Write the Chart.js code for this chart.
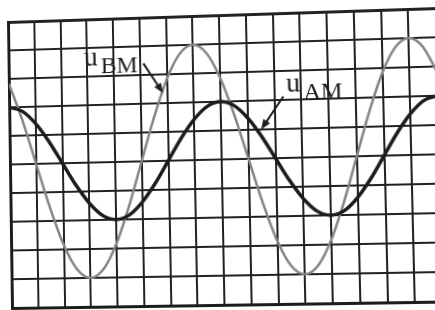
<!DOCTYPE html>
<html lang="en">
<head>
    <meta charset="UTF-8">
    <title>u_AM and u_BM</title>
    <script src="https://cdn.jsdelivr.net/npm/chart.js@4.4.0/dist/chart.umd.min.js"></script>
    <style>
        html, body { margin: 0; padding: 0; background: #fff; }
        body { width: 435px; height: 310px; overflow: hidden; position: relative; }
        /* the scanned sheet is slightly skewed, see fitSheet() */
        .sheet {
            position: absolute; left: 0; top: 0;
            width: 450px; height: 320px;
            transform-origin: 0 0;
        }
    </style>
</head>
<body>
    <div class="sheet" id="sheet"><canvas id="scope" width="450" height="320"></canvas></div>

    <script>
        // grid divisions
        const xDivs = [0, 1, 2, 3, 4, 5, 6, 7, 8, 9, 10, 11, 12, 13, 14, 15, 16];
        const yDivs = [-5, -4, -3, -2, -1, 0, 1, 2, 3, 4, 5];

        // time in grid divisions
        const time = [0, 0.5, 1, 1.5, 2, 2.5, 3, 3.5, 4, 4.5, 5, 5.5, 6, 6.5, 7, 7.5, 8,
                      8.5, 9, 9.5, 10, 10.5, 11, 11.5, 12, 12.5, 13, 13.5, 14, 14.5, 15, 15.5, 16];

        // voltages in grid divisions
        const uAM = [2, 1.85, 1.41, 0.77, 0, -0.77, -1.41, -1.85, -2, -1.85, -1.41, -0.77, 0, 0.77, 1.41, 1.85, 2,
                     1.85, 1.41, 0.77, 0, -0.77, -1.41, -1.85, -2, -1.85, -1.41, -0.77, 0, 0.77, 1.41, 1.85, 2];
        const uBM = [2.83, 1.53, 0, -1.53, -2.83, -3.7, -4, -3.7, -2.83, -1.53, 0, 1.53, 2.83, 3.7, 4, 3.7, 2.83,
                     1.53, 0, -1.53, -2.83, -3.7, -4, -3.7, -2.83, -1.53, 0, 1.53, 2.83, 3.7, 4, 3.7, 2.83];

        // label text, anchored in grid units
        const curveLabels = [
            { sub: 'BM', at: [2.88, 3.37], from: [5.13, 3.40], to: [5.85, 2.35] },
            { sub: 'AM', at: [10.45, 2.29], from: [10.34, 2.12], to: [9.49, 1.0] }
        ];

        // where grid corners (0,5) (15,5) (15,-5) (0,-5) land on the photo
        const sheetCorners = [[8, 22], [408, 9], [415, 302], [12, 308]];

        const ink = '#1c1c1c';

        const labelPlugin = {
            id: 'curveLabels',
            afterDatasetsDraw(chart) {
                const { ctx, scales: { x, y } } = chart;
                curveLabels.forEach(l => {
                    const px = x.getPixelForValue(l.at[0]);
                    const py = y.getPixelForValue(l.at[1]);
                    ctx.save();
                    ctx.fillStyle = ink;
                    ctx.strokeStyle = ink;
                    ctx.textBaseline = 'alphabetic';
                    ctx.font = '28px "Liberation Serif"';
                    ctx.fillText('u', px, py);
                    const w = ctx.measureText('u').width;
                    ctx.font = '24px "Liberation Serif"';
                    ctx.fillText(l.sub, px + w + 3, py + 8);

                    // arrow towards the curve
                    const x0 = x.getPixelForValue(l.from[0]), y0 = y.getPixelForValue(l.from[1]);
                    const x1 = x.getPixelForValue(l.to[0]), y1 = y.getPixelForValue(l.to[1]);
                    const a = Math.atan2(y1 - y0, x1 - x0);
                    ctx.lineWidth = 2;
                    ctx.beginPath();
                    ctx.moveTo(x0, y0);
                    ctx.lineTo(x1 - 6 * Math.cos(a), y1 - 6 * Math.sin(a));
                    ctx.stroke();
                    ctx.beginPath();
                    ctx.moveTo(x1, y1);
                    ctx.lineTo(x1 - 10 * Math.cos(a) + 4 * Math.sin(a), y1 - 10 * Math.sin(a) - 4 * Math.cos(a));
                    ctx.lineTo(x1 - 10 * Math.cos(a) - 4 * Math.sin(a), y1 - 10 * Math.sin(a) + 4 * Math.cos(a));
                    ctx.closePath();
                    ctx.fill();
                    ctx.restore();
                });
            }
        };

        // projective map from the flat chart to the photographed sheet
        function fitSheet(chart) {
            const { x, y } = chart.scales;
            const L = x.getPixelForValue(0), R = x.getPixelForValue(15);
            const T = y.getPixelForValue(5), B = y.getPixelForValue(-5);
            const [[x0, y0], [x1, y1], [x2, y2], [x3, y3]] = sheetCorners;
            const dx1 = x1 - x2, dx2 = x3 - x2, dx3 = x0 - x1 + x2 - x3;
            const dy1 = y1 - y2, dy2 = y3 - y2, dy3 = y0 - y1 + y2 - y3;
            const den = dx1 * dy2 - dx2 * dy1;
            const g = (dx3 * dy2 - dx2 * dy3) / den;
            const h = (dx1 * dy3 - dx3 * dy1) / den;
            const a = x1 - x0 + g * x1, b = x3 - x0 + h * x3, c = x0;
            const d = y1 - y0 + g * y1, e = y3 - y0 + h * y3, f = y0;
            const W = R - L, H = B - T;
            const m11 = a / W, m12 = b / H, m13 = c - a * L / W - b * T / H;
            const m21 = d / W, m22 = e / H, m23 = f - d * L / W - e * T / H;
            const m31 = g / W, m32 = h / H, m33 = 1 - g * L / W - h * T / H;
            document.getElementById('sheet').style.transform =
                `matrix3d(${m11},${m21},0,${m31},${m12},${m22},0,${m32},0,0,1,0,${m13},${m23},0,${m33})`;
        }

        const pts = vals => vals.map((v, i) => ({ x: time[i], y: v }));
        const fixTicks = list => scale => { scale.ticks = list.map(v => ({ value: v })); };

        const chart = new Chart(document.getElementById('scope'), {
            type: 'line',
            data: {
                datasets: [{
                    label: 'uAM',
                    data: pts(uAM),
                    borderColor: ink,
                    borderWidth: 3.5,
                    pointRadius: 0,
                    cubicInterpolationMode: 'monotone'
                }, {
                    label: 'uBM',
                    data: pts(uBM),
                    borderColor: '#858585',
                    borderWidth: 2.5,
                    pointRadius: 0,
                    cubicInterpolationMode: 'monotone'
                }]
            },
            options: {
                responsive: false,
                animation: false,
                events: [],
                layout: { padding: { left: 10, top: 15, right: 12, bottom: 15 } },
                plugins: { legend: { display: false }, tooltip: { enabled: false } },
                scales: {
                    x: {
                        type: 'linear', min: 0, max: 16,
                        afterBuildTicks: fixTicks(xDivs),
                        ticks: { display: false },
                        grid: {
                            drawTicks: false,
                            color: c => (c.tick && c.tick.value === 16) ? 'rgba(0,0,0,0)' : '#222',
                            lineWidth: c => (c.tick && c.tick.value === 0) ? 3 : 2
                        },
                        border: { display: true, color: ink, width: 3 }
                    },
                    y: {
                        type: 'linear', min: -5, max: 5,
                        afterBuildTicks: fixTicks(yDivs),
                        ticks: { display: false },
                        grid: {
                            drawTicks: false,
                            color: '#222',
                            lineWidth: c => (c.tick && Math.abs(c.tick.value) === 5) ? 3 : 2
                        },
                        border: { display: true, color: ink, width: 3 }
                    }
                }
            },
            plugins: [labelPlugin]
        });

        fitSheet(chart);
    </script>
</body>
</html>
